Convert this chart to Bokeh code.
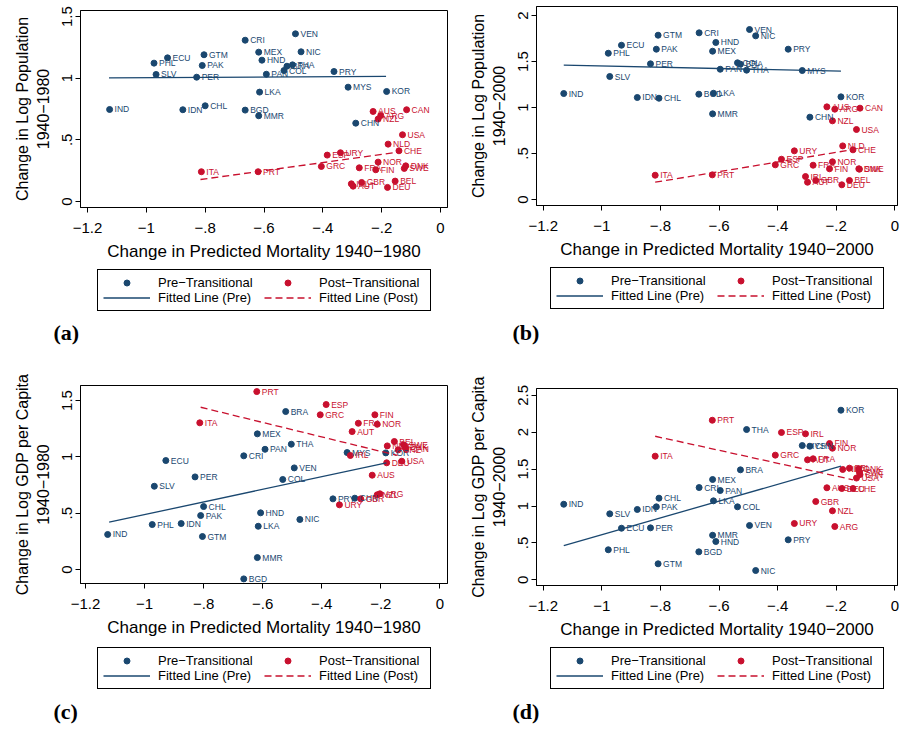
from bokeh.plotting import figure
from bokeh.models import (Range1d, FixedTicker, CustomJSTickFormatter, Legend,
                          LegendItem, Label, ColumnDataSource)
from bokeh.layouts import gridplot
from bokeh.embed import file_html
from bokeh.resources import INLINE

# ---------------- data ----------------
pre_codes = ["IND", "IDN", "PHL", "SLV", "ECU", "PER", "PAK", "GTM", "CHL", "CRI",
             "BGD", "MEX", "MMR", "LKA", "HND", "PAN", "COL", "BRA", "THA", "VEN",
             "NIC", "PRY", "MYS", "CHN", "KOR"]
pre_mort_1980 = [-1.125, -0.876, -0.974, -0.967, -0.928, -0.829, -0.810, -0.804, -0.800, -0.664,
                 -0.664, -0.618, -0.618, -0.615, -0.607, -0.592, -0.532, -0.522, -0.503, -0.493,
                 -0.474, -0.362, -0.314, -0.288, -0.183]
pre_mort_2000 = [-1.130, -0.879, -0.978, -0.973, -0.933, -0.834, -0.814, -0.808, -0.805, -0.668,
                 -0.669, -0.622, -0.622, -0.619, -0.611, -0.596, -0.537, -0.527, -0.506, -0.496,
                 -0.475, -0.364, -0.316, -0.290, -0.184]
pre_pop_1980 = [0.746, 0.744, 1.122, 1.030, 1.165, 1.008, 1.103, 1.190, 0.776, 1.308,
                0.741, 1.211, 0.695, 0.887, 1.146, 1.032, 1.062, 1.097, 1.108, 1.360,
                1.214, 1.054, 0.927, 0.635, 0.892]
pre_pop_2000 = [1.152, 1.109, 1.590, 1.337, 1.677, 1.475, 1.634, 1.786, 1.101, 1.812,
                1.145, 1.612, 0.931, 1.155, 1.707, 1.416, 1.486, 1.471, 1.406, 1.848,
                1.779, 1.634, 1.402, 0.895, 1.116]
pre_gdp_1980 = [0.311, 0.408, 0.399, 0.739, 0.967, 0.822, 0.479, 0.293, 0.559, 1.009,
                -0.083, 1.204, 0.106, 0.384, 0.503, 1.067, 0.799, 1.402, 1.112, 0.902,
                0.444, 0.627, 1.038, 0.633, 1.035]
pre_gdp_2000 = [1.024, 0.953, 0.407, 0.894, 0.699, 0.704, 0.989, 0.217, 1.106, 1.250,
                0.379, 1.359, 0.604, 1.070, 0.519, 1.210, 0.989, 1.490, 2.036, 0.736,
                0.126, 0.542, 1.819, 1.810, 2.298]

post_codes = ["ITA", "PRT", "GRC", "ESP", "URY", "IRL", "AUT", "FRA", "GBR", "AUS",
              "FIN", "NOR", "NZL", "ARG", "DEU", "NLD", "BEL", "CHE", "USA", "SWE",
              "DNK", "CAN"]
post_mort_1980 = [-0.813, -0.620, -0.405, -0.385, -0.340, -0.303, -0.297, -0.276, -0.268, -0.229,
                  -0.220, -0.212, -0.212, -0.203, -0.180, -0.178, -0.154, -0.141, -0.129, -0.123,
                  -0.118, -0.115]
post_mort_2000 = [-0.818, -0.623, -0.408, -0.387, -0.343, -0.305, -0.298, -0.279, -0.270, -0.232,
                  -0.223, -0.213, -0.213, -0.205, -0.181, -0.178, -0.155, -0.143, -0.131, -0.121,
                  -0.123, -0.119]
post_pop_1980 = [0.241, 0.241, 0.284, 0.376, 0.395, 0.143, 0.124, 0.273, 0.154, 0.730,
                 0.257, 0.319, 0.668, 0.697, 0.114, 0.465, 0.165, 0.411, 0.541, 0.268,
                 0.289, 0.744]
post_pop_2000 = [0.264, 0.268, 0.377, 0.438, 0.529, 0.250, 0.188, 0.373, 0.207, 1.007,
                 0.334, 0.410, 0.855, 0.982, 0.160, 0.583, 0.207, 0.540, 0.761, 0.330,
                 0.334, 0.993]
post_gdp_1980 = [1.302, 1.579, 1.373, 1.464, 0.574, 1.012, 1.224, 1.298, 0.627, 0.837,
                 1.373, 1.289, 0.663, 0.672, 0.947, 1.097, 1.136, 1.062, 0.961, 1.107,
                 1.085, 1.071]
post_gdp_2000 = [1.675, 2.162, 1.689, 1.996, 0.763, 1.978, 1.626, 1.640, 1.061, 1.247,
                 1.847, 1.783, 0.935, 0.722, 1.237, 1.495, 1.513, 1.237, 1.379, 1.458,
                 1.504, 1.426]

# fitted lines (end points)
fit_pop1980_pre_x, fit_pop1980_pre_y = [-1.127, -0.185], [1.003, 1.014]
fit_pop1980_post_x, fit_pop1980_post_y = [-0.816, -0.143], [0.178, 0.400]
fit_pop2000_pre_x, fit_pop2000_pre_y = [-1.130, -0.184], [1.460, 1.395]
fit_pop2000_post_x, fit_pop2000_post_y = [-0.818, -0.143], [0.188, 0.543]
fit_gdp1980_pre_x, fit_gdp1980_pre_y = [-1.120, -0.181], [0.420, 0.947]
fit_gdp1980_post_x, fit_gdp1980_post_y = [-0.810, -0.143], [1.440, 1.012]
fit_gdp2000_pre_x, fit_gdp2000_pre_y = [-1.130, -0.184], [0.464, 1.539]
fit_gdp2000_post_x, fit_gdp2000_post_y = [-0.818, -0.143], [1.945, 1.355]

x_ticks = [-1.2, -1.0, -0.8, -0.6, -0.4, -0.2, 0.0]
legend_labels = ["Pre\u2212Transitional", "Fitted Line (Pre)",
                 "Post\u2212Transitional", "Fitted Line (Post)"]

# ---------------- style ----------------
BLUE = "#1a476f"
RED = "#c8102e"
FONT = "Liberation Sans"

FMT = """
const v = Math.round(tick * 10) / 10;
let s = Math.abs(v).toString();
if (s.startsWith("0.")) { s = s.slice(1); }
return (v < 0 ? "\u2212" : "") + s;
"""


def panel(xpre, ypre, xpost, ypost, fpx, fpy, fqx, fqy,
          xr, yr, yticks, ylab, xlab, fl, fw, ft, fh, H):
    p = figure(width=450, height=H,
               x_range=Range1d(*xr), y_range=Range1d(*yr),
               output_backend="svg", toolbar_location=None, tools="",
               min_border_left=fl, min_border_right=450 - fl - fw,
               min_border_top=ft, min_border_bottom=H - ft - fh,
               frame_align=False)
    p.grid.visible = False
    p.outline_line_color = "black"
    p.outline_line_width = 1
    p.background_fill_color = "white"
    p.border_fill_color = "white"

    for ax in (p.xaxis[0], p.yaxis[0]):
        ax.formatter = CustomJSTickFormatter(code=FMT)
        ax.minor_tick_line_color = None
        ax.major_tick_out = 5
        ax.major_tick_in = 0
        ax.axis_line_color = "black"
        ax.major_tick_line_color = "black"
        ax.major_label_text_font = FONT
        ax.major_label_text_font_size = "15px"
        ax.major_label_text_color = "black"
        ax.axis_label_text_font = FONT
        ax.axis_label_text_font_style = "normal"
        ax.axis_label_text_color = "black"
    p.xaxis.ticker = FixedTicker(ticks=x_ticks)
    p.yaxis.ticker = FixedTicker(ticks=yticks)
    p.xaxis.axis_label = xlab
    p.xaxis.axis_label_text_font_size = "17px"
    p.xaxis.major_label_standoff = 10
    p.xaxis.axis_label_standoff = 6
    p.yaxis.axis_label = ylab
    p.yaxis.axis_label_text_font_size = "16px"
    p.yaxis.major_label_orientation = "parallel"
    p.yaxis.major_label_standoff = 3
    p.yaxis.axis_label_standoff = 8

    src_pre = ColumnDataSource(dict(x=xpre, y=ypre, t=pre_codes))
    src_post = ColumnDataSource(dict(x=xpost, y=ypost, t=post_codes))
    p.scatter("x", "y", source=src_pre, size=6, color=BLUE)
    p.scatter("x", "y", source=src_post, size=6, color=RED)
    for src, col in ((src_pre, BLUE), (src_post, RED)):
        p.text("x", "y", text="t", source=src, x_offset=5,
               text_baseline="middle", text_align="left",
               text_font_size="8.5px", text_color=col,
               text_font={"value": FONT})
    p.line(fpx, fpy, color=BLUE, line_width=1.3)
    p.line(fqx, fqy, color=RED, line_width=1.3, line_dash="7 4")
    return p


def legend_box(letter, H, lx, ly, tx, ty, xpre, ypre, xpost, ypost,
               fpx, fpy, fqx, fqy):
    q = figure(width=450, height=H, x_range=Range1d(0, 450), y_range=Range1d(0, H),
               output_backend="svg", toolbar_location=None, tools="",
               x_axis_location=None, y_axis_location=None, min_border=0,
               frame_align=False)
    q.grid.visible = False
    q.outline_line_color = None
    q.background_fill_color = "white"
    q.border_fill_color = "white"
    # hidden copies of the panel's renderers, used only for the legend glyphs
    r_pre = q.scatter(x=xpre, y=ypre, size=6, color=BLUE, visible=False)
    l_pre = q.line(x=fpx, y=fpy, color=BLUE, line_width=1.3, visible=False)
    r_post = q.scatter(x=xpost, y=ypost, size=6, color=RED, visible=False)
    l_post = q.line(x=fqx, y=fqy, color=RED, line_width=1.3, line_dash="7 4",
                    visible=False)
    legend = Legend(
        items=[LegendItem(label=legend_labels[0], renderers=[r_pre]),
               LegendItem(label=legend_labels[1], renderers=[l_pre]),
               LegendItem(label=legend_labels[2], renderers=[r_post]),
               LegendItem(label=legend_labels[3], renderers=[l_post])],
        ncols=2, location=(lx, ly), orientation="vertical",
        border_line_color="black", border_line_width=1, border_line_alpha=1,
        padding=5, spacing=0, margin=0,
        label_text_font=FONT, label_text_font_size="13px", label_text_color="black",
        glyph_width=47, glyph_height=15, label_height=15, label_width=106,
        label_standoff=8, background_fill_alpha=1.0,
        inactive_fill_alpha=0.0, click_policy="none")
    q.add_layout(legend, "center")
    q.add_layout(Label(x=tx, y=ty, text="(%s)" % letter, text_font="Liberation Serif",
                       text_font_style="bold", text_font_size="22px",
                       text_color="black",
                       text_baseline="middle", text_align="left"))
    return q


pa = panel(pre_mort_1980, pre_pop_1980, post_mort_1980, post_pop_1980,
           fit_pop1980_pre_x, fit_pop1980_pre_y, fit_pop1980_post_x, fit_pop1980_post_y,
           (-1.224, 0.024), (-0.049, 1.549), [0, 0.5, 1, 1.5],
           "Change in Log Population\n1940\u22121980",
           "Change in Predicted Mortality 1940\u22121980",
           80, 367, 10, 197, 267)
pb = panel(pre_mort_2000, pre_pop_2000, post_mort_2000, post_pop_2000,
           fit_pop2000_pre_x, fit_pop2000_pre_y, fit_pop2000_post_x, fit_pop2000_post_y,
           (-1.223, 0.009), (-0.065, 2.098), [0, 0.5, 1, 1.5, 2],
           "Change in Log Population\n1940\u22122000",
           "Change in Predicted Mortality 1940\u22122000",
           86, 361, 6, 199, 267)
pc = panel(pre_mort_1980, pre_gdp_1980, post_mort_1980, post_gdp_1980,
           fit_gdp1980_pre_x, fit_gdp1980_pre_y, fit_gdp1980_post_x, fit_gdp1980_post_y,
           (-1.217, 0.026), (-0.124, 1.633), [0, 0.5, 1, 1.5],
           "Change in Log GDP per Capita\n1940\u22121980",
           "Change in Predicted Mortality 1940\u22121980",
           80, 367, 20, 198, 280)
pd_ = panel(pre_mort_2000, pre_gdp_2000, post_mort_2000, post_gdp_2000,
            fit_gdp2000_pre_x, fit_gdp2000_pre_y, fit_gdp2000_post_x, fit_gdp2000_post_y,
            (-1.223, 0.009), (-0.077, 2.592), [0, 0.5, 1, 1.5, 2, 2.5],
            "Change in Log GDP per Capita\n1940\u22122000",
            "Change in Predicted Mortality 1940\u22122000",
            86, 361, 23, 197, 280)

la = legend_box("a", 98, 97, 54, 53, 33, pre_mort_1980, pre_pop_1980,
                post_mort_1980, post_pop_1980, fit_pop1980_pre_x, fit_pop1980_pre_y,
                fit_pop1980_post_x, fit_pop1980_post_y)
lb = legend_box("b", 98, 100, 56, 62, 33, pre_mort_2000, pre_pop_2000,
                post_mort_2000, post_pop_2000, fit_pop2000_pre_x, fit_pop2000_pre_y,
                fit_pop2000_post_x, fit_pop2000_post_y)
lc = legend_box("c", 84, 97, 40, 53, 18, pre_mort_1980, pre_gdp_1980,
                post_mort_1980, post_gdp_1980, fit_gdp1980_pre_x, fit_gdp1980_pre_y,
                fit_gdp1980_post_x, fit_gdp1980_post_y)
ld = legend_box("d", 84, 100, 40, 62, 18, pre_mort_2000, pre_gdp_2000,
                post_mort_2000, post_gdp_2000, fit_gdp2000_pre_x, fit_gdp2000_pre_y,
                fit_gdp2000_post_x, fit_gdp2000_post_y)

grid = gridplot([[pa, pb], [la, lb], [pc, pd_], [lc, ld]], toolbar_location=None)
open("out.html", "w").write(file_html(grid, INLINE))
